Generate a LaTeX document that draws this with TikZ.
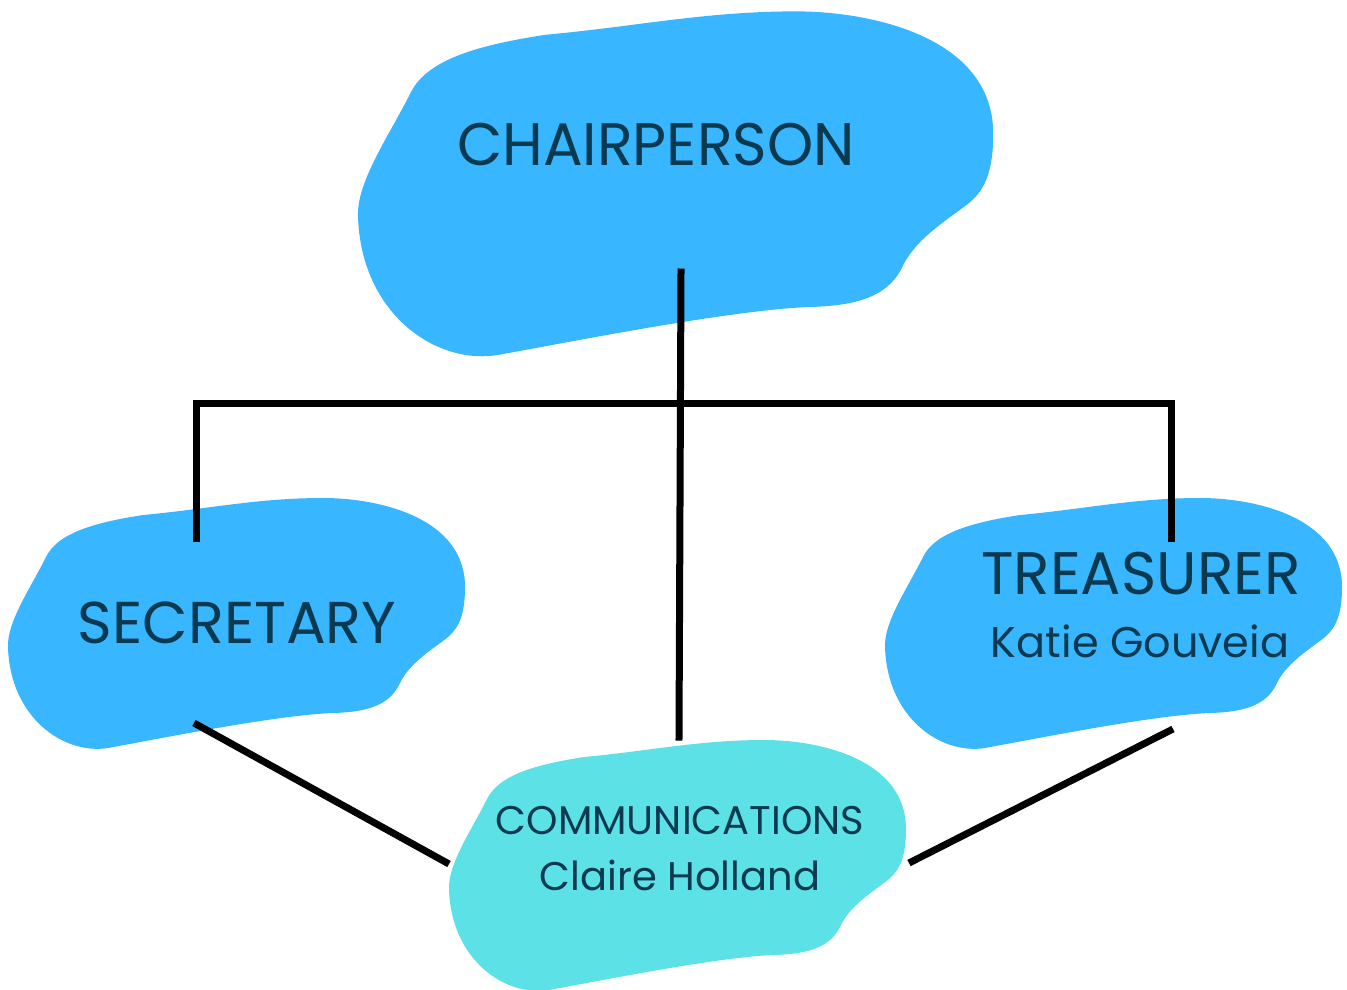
\documentclass[tikz,border=0pt]{standalone}
\usepackage{fontspec}
\setmainfont{Poppins}
\newfontfamily\chairfont[FakeStretch=0.98]{Poppins}
\usepackage{tikz}
\usetikzlibrary{positioning}

\begin{document}
\begin{tikzpicture}[x=1pt,y=-1pt,line cap=rect]
				\definecolor{custcol_38_b6_ff}{RGB}{56, 182, 255}
				\definecolor{custcol_5c_e1_e6}{RGB}{92, 225, 230}
				\definecolor{custcol_0b_39_50}{RGB}{11, 57, 80}
				\definecolor{custcol_0_0_0}{RGB}{0, 0, 0}
				\def\blob#1{\fill [#1] (0,150) .. controls (-1,125) and (22,92) .. (38,60) .. controls (50,35) and (90,25) .. (135,18) .. controls (200,12) and (250,1) .. (315,1) .. controls (370,1) and (457,20) .. (457,90) .. controls (457,115) and (452,130) .. (440,140) .. controls (428,150) and (402,165) .. (392,186) .. controls (382,208) and (360,215) .. (325,216) .. controls (270,218) and (160,240) .. (100,251) .. controls (55,258) and (2,220) .. (0,150) -- cycle;}
				\tikzset{rolelabel/.style={inner sep=0, outer sep=0, custcol_0b_39_50, anchor=base}}
				\useasboundingbox (0,0) rectangle (1347,989);
				% blobs
				\blob{custcol_38_b6_ff, shift={(358,10)}, xscale=1.39, yscale=1.375}
				\blob{custcol_38_b6_ff, shift={(8,497)}}
				\blob{custcol_38_b6_ff, shift={(885,497)}}
				\blob{custcol_5c_e1_e6, shift={(449,739)}}
				% labels
				\node[rolelabel] (chair) at (656,165) {\chairfont\fontsize{60pt}{60pt}\selectfont CHAIRPERSON};
				\node[rolelabel] (secretary) at (237,643) {\fontsize{59pt}{59pt}\selectfont SECRETARY};
				\node[rolelabel] (treasurer) at (1141,594) {\fontsize{60pt}{60pt}\selectfont TREASURER};
				\node[rolelabel] (treasname) at (1140,657) {\fontsize{43pt}{43pt}\selectfont Katie Gouveia};
				\node[rolelabel] (comms) at (680,834) {\fontsize{40pt}{40pt}\selectfont COMMUNICATIONS};
				\node[rolelabel] (commsname) at (680,890) {\fontsize{40pt}{40pt}\selectfont Claire Holland};
				% connector ends
				\coordinate (chairfoot) at (681,272);
				\coordinate (commtop) at (679,737);
				\coordinate (busleft) at (196,403);
				\coordinate (busright) at (1171,403);
				\coordinate (sectop) at (196,538);
				\coordinate (treastop) at (1171,538);
				\coordinate (secfoot) at (194,723);
				\coordinate (commleft) at (449,864);
				\coordinate (treasfoot) at (1173,729);
				\coordinate (commright) at (909,863);
				% connectors
				\draw [line width=7.0pt, custcol_0_0_0 ]  (chairfoot) -- (commtop) ;
				\draw [line width=7.0pt, custcol_0_0_0 ]  (sectop) -- (busleft) -- (busright) -- (treastop) ;
				\draw [line width=7.0pt, custcol_0_0_0, line cap=butt ]  (secfoot) -- (commleft) ;
				\draw [line width=7.0pt, custcol_0_0_0, line cap=butt ]  (treasfoot) -- (commright) ;
			\end{tikzpicture}
\end{document}
